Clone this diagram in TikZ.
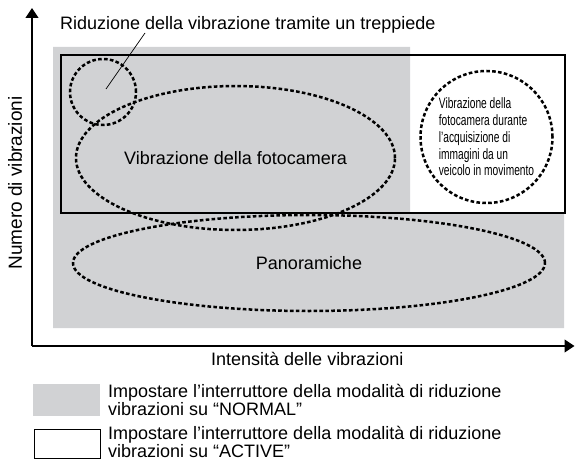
\documentclass[tikz,border=0pt]{standalone}
\usepackage{fontspec}
\setmainfont{Liberation Sans}
\newfontfamily\narrowfont[FakeStretch=0.68]{Liberation Sans}
\usetikzlibrary{arrows.meta,shapes.geometric}
\definecolor{vrgray}{RGB}{209,210,212}
\begin{document}
\begin{tikzpicture}[x=1pt,y=-1pt,
  dots/.style={draw, line width=2.5pt, dash pattern=on 3.6pt off 2.3pt, inner sep=0pt},
  lbl/.style={font=\fontsize{18}{20}\selectfont, inner sep=0pt},
  axisline/.style={line width=1.2pt, -{Triangle[length=10pt,width=13pt]}},
  framebox/.style={draw, line width=1.8pt, rectangle, inner sep=0pt}]
\useasboundingbox (0,0) rectangle (575,462);
% gray NORMAL region
\fill[vrgray] (53,47) -- (410,47) -- (410,214) -- (564,214) -- (564,328) -- (53,328) -- cycle;
% ACTIVE frame
\node[framebox, minimum width=504pt, minimum height=158pt, anchor=north west] (active) at (60,54) {};
% axes
\coordinate (origin) at (32,346);
\coordinate (ytip) at (32,8);
\coordinate (xtip) at (574.5,346);
\draw[axisline] (origin) -- (ytip);
\draw[axisline] (origin) -- (xtip);
% dotted regions
\node[dots, ellipse, minimum width=472pt, minimum height=96pt, font=\fontsize{18}{20}\selectfont] (pan) at (309,263) {Panoramiche};
\node[dots, ellipse, minimum width=319pt, minimum height=144pt, font=\fontsize{18}{20}\selectfont] (cam) at (235.5,158) {Vibrazione della fotocamera};
\node[dots, circle, minimum size=66pt] (tripod) at (103,92) {};
\node[dots, circle, minimum size=132pt, align=left, font={\narrowfont\fontsize{15}{16.7}\selectfont}] (vehicle) at (486.5,137) {Vibrazione della\\fotocamera durante\\l’acquisizione di\\immagini da un\\veicolo in movimento};
% title and leader
\node[lbl, anchor=base west] (title) at (60,30) {Riduzione della vibrazione tramite un treppiede};
\coordinate (leadtop) at (145,33);
\coordinate (leadend) at (106,89);
\draw[line width=0.7pt] (leadtop) -- (leadend);
% axis labels
\node[lbl, anchor=base west] (xlabel) at (211,365) {Intensità delle vibrazioni};
\node[lbl, rotate=90, font=\fontsize{19}{21}\selectfont] (ylabel) at (15,183) {Numero di vibrazioni};
% legend
\node[fill=vrgray, minimum width=67pt, minimum height=32pt, inner sep=0pt, anchor=north west] (legnormal) at (33,384) {};
\node[framebox, line width=1.5pt, minimum width=66pt, minimum height=29pt, anchor=north west] (legactive) at (33.5,428.5) {};
\node[lbl, anchor=base west] (legnormalA) at (108,397.5) {Impostare l’interruttore della modalità di riduzione};
\node[lbl, anchor=base west] (legnormalB) at (108,415) {vibrazioni su “NORMAL”};
\node[lbl, anchor=base west] (legactiveA) at (108,439) {Impostare l’interruttore della modalità di riduzione};
\node[lbl, anchor=base west] (legactiveB) at (108,457) {vibrazioni su “ACTIVE”};
\end{tikzpicture}
\end{document}
